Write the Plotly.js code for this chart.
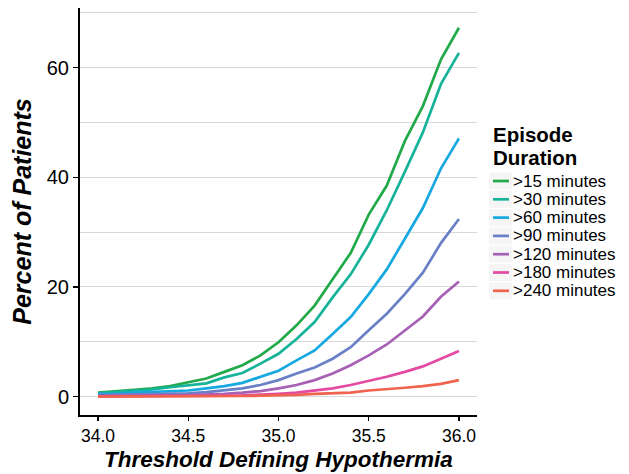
<!DOCTYPE html>
<html>
<head>
<meta charset="utf-8">
<script src="https://cdn.plot.ly/plotly-3.0.1.min.js"></script>
<style>html,body{margin:0;padding:0;background:#fff;}#chart{width:629px;height:474px;}</style>
</head>
<body>
<div id="chart"></div>
<script>
const thresholds = [34.0,34.1,34.2,34.3,34.4,34.5,34.6,34.7,34.8,34.9,35.0,35.1,35.2,35.3,35.4,35.5,35.6,35.7,35.8,35.9,36.0];
const seriesNames = [">15 minutes", ">30 minutes", ">60 minutes", ">90 minutes", ">120 minutes", ">180 minutes", ">240 minutes"];
const min15  = [0.7,0.9,1.2,1.5,1.9,2.6,3.3,4.5,5.7,7.5,9.9,13.0,16.6,21.4,26.2,33.2,38.5,46.6,53.0,61.5,67.3];
const min30  = [0.6,0.8,1.0,1.3,1.7,2.1,2.4,3.5,4.3,6.0,7.8,10.5,13.6,18.1,22.3,27.7,34.0,41.0,48.2,57.0,62.7];
const min60  = [0.5,0.5,0.7,0.8,1.0,1.1,1.5,1.9,2.5,3.6,4.7,6.6,8.4,11.4,14.5,18.7,23.2,28.8,34.4,41.6,47.1];
const min90  = [0.25,0.3,0.35,0.4,0.5,0.6,0.8,1.1,1.5,2.1,3.0,4.2,5.3,6.9,9.0,12.1,15.1,18.7,22.6,28.0,32.4];
const min120 = [0.1,0.1,0.1,0.15,0.2,0.25,0.35,0.5,0.7,1.0,1.5,2.1,3.0,4.2,5.7,7.5,9.5,12.1,14.6,18.2,21.0];
const min180 = [0.05,0.05,0.05,0.05,0.05,0.05,0.1,0.15,0.2,0.3,0.5,0.7,1.1,1.5,2.1,2.8,3.6,4.5,5.5,6.9,8.3];
const min240 = [0,0,0,0,0,0.05,0.05,0.05,0.1,0.15,0.2,0.3,0.5,0.6,0.7,1.1,1.3,1.6,1.9,2.3,3.0];
const seriesValues = [min15, min30, min60, min90, min120, min180, min240];
const colors = ["#21a94a", "#16b39a", "#16a8e0", "#6a80c6", "#a660b4", "#e34aa2", "#f0634e"];
const legendTitle = ["Episode", "Duration"];
const yTicks = [0, 20, 40, 60];
const yMinorTicks = [10, 30, 50, 70];
const xTicks = [34.0, 34.5, 35.0, 35.5, 36.0];
const xTickLabels = ["34.0", "34.5", "35.0", "35.5", "36.0"];

const traces = seriesNames.map((name, i) => ({
  type: 'scatter', mode: 'lines', name: name,
  x: thresholds, y: seriesValues[i],
  line: {color: colors[i], width: 2.7},
  hoverinfo: 'skip', showlegend: false
}));

// plot area in pixels (for placing the hand-built legend)
const W = 629, H = 474, mL = 80, mR = 152, mT = 8, mB = 59;
const pw = W - mL - mR, ph = H - mT - mB;
const px = v => (v - mL) / pw;
const py = v => (H - mB - v) / ph;

const font = "Liberation Sans, Arial, Helvetica, sans-serif";
const annotations = [];
const shapes = [];
legendTitle.forEach((t, k) => {
  annotations.push({xref: 'paper', yref: 'paper', x: px(491), y: py(134 + k * 23), xanchor: 'left', yanchor: 'middle',
    text: '<b>' + t + '</b>', showarrow: false, font: {size: 20.5, family: font, color: '#000'}});
});
seriesNames.forEach((name, i) => {
  const cy = 181 + i * 18.3;
  shapes.push({type: 'rect', xref: 'paper', yref: 'paper', x0: px(489), x1: px(512), y0: py(cy - 8.5), y1: py(cy + 8.5),
    fillcolor: '#f5f5f5', line: {width: 0}, layer: 'below'});
  shapes.push({type: 'line', xref: 'paper', yref: 'paper', x0: px(493), x1: px(509), y0: py(cy), y1: py(cy),
    line: {color: colors[i], width: 2.7}});
  annotations.push({xref: 'paper', yref: 'paper', x: px(511), y: py(cy), xanchor: 'left', yanchor: 'middle',
    text: name, showarrow: false, font: {size: 17, family: font, color: '#000'}});
});

// x-axis title placed as an annotation at the bottom, under the tick labels
annotations.push({xref: 'paper', yref: 'paper', x: 0.5, y: py(473.5), xanchor: 'center', yanchor: 'bottom', borderpad: 0,
  text: '<b><i>Threshold Defining Hypothermia</i></b>', showarrow: false, font: {size: 22.5, family: font, color: '#000'}});

const layout = {
  width: W, height: H,
  margin: {l: mL, r: mR, t: mT, b: mB},
  paper_bgcolor: '#ffffff', plot_bgcolor: '#ffffff',
  font: {family: font, color: '#000'},
  showlegend: false,
  annotations: annotations,
  shapes: shapes,
  xaxis: {
    range: [33.9, 36.1], tickvals: xTicks, ticktext: xTickLabels,
    showgrid: false, zeroline: false,
    showline: true, linecolor: '#000', linewidth: 2,
    ticks: 'outside', ticklen: 4, tickwidth: 1.5, tickcolor: '#000',
    tickfont: {size: 17.5, family: font, color: '#000'}
  },
  yaxis: {
    range: [-3.37, 70.9], tickvals: yTicks,
    showgrid: true, gridcolor: '#d9d9d9', gridwidth: 1,
    minor: {tickvals: yMinorTicks, showgrid: true, gridcolor: '#d9d9d9', gridwidth: 1, ticks: ''},
    zeroline: false,
    showline: true, linecolor: '#000', linewidth: 2,
    ticks: 'outside', ticklen: 5, tickwidth: 1.5, tickcolor: '#000',
    tickfont: {size: 20, family: font, color: '#000'},
    title: {text: '<b><i>Percent of Patients</i></b>', font: {size: 25, family: font, color: '#000'}, standoff: 8}
  }
};

Plotly.newPlot('chart', traces, layout, {staticPlot: true, displayModeBar: false});
</script>
</body>
</html>
